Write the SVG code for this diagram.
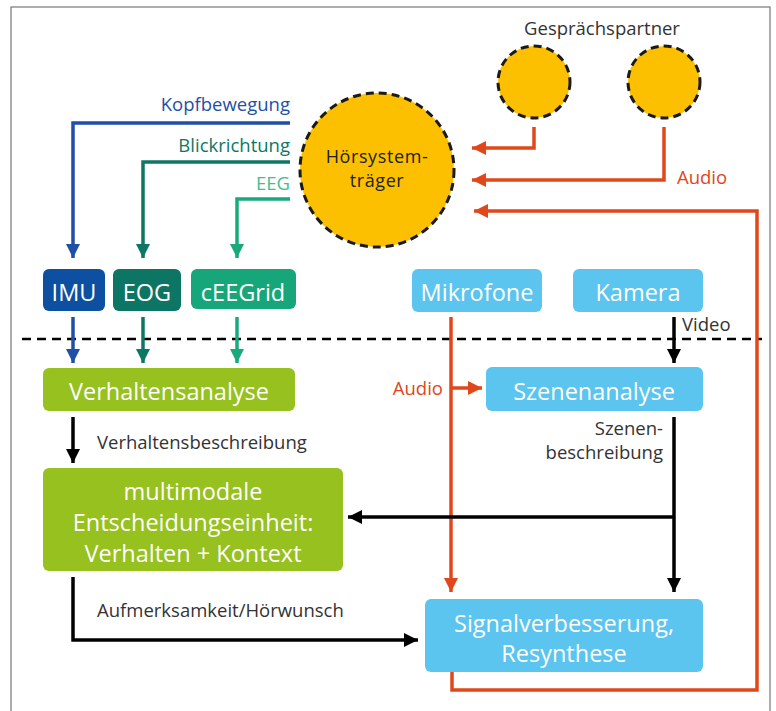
<svg xmlns="http://www.w3.org/2000/svg" width="776" height="711" viewBox="0 0 776 711">
<defs>
<style>
text{font-family:"Open Sans","Noto Sans",sans-serif}
.lbl{font-size:18.5px;fill:#333}
.wt{fill:#fff;font-size:23.5px;text-anchor:middle}
.ln{fill:none;stroke-width:3.5}
.circ{fill:#fcc000;stroke:#1a1a1a;stroke-width:3;stroke-dasharray:8 5}
</style>
<marker id="ab" markerUnits="userSpaceOnUse" markerWidth="16" markerHeight="14" refX="14" refY="7" orient="auto"><path d="M0,0 L14,7 L0,14 Z" fill="#1f4fa6"/></marker>
<marker id="at" markerUnits="userSpaceOnUse" markerWidth="16" markerHeight="14" refX="14" refY="7" orient="auto"><path d="M0,0 L14,7 L0,14 Z" fill="#0e7763"/></marker>
<marker id="ag" markerUnits="userSpaceOnUse" markerWidth="16" markerHeight="14" refX="14" refY="7" orient="auto"><path d="M0,0 L14,7 L0,14 Z" fill="#1aa97c"/></marker>
<marker id="ak" markerUnits="userSpaceOnUse" markerWidth="16" markerHeight="14" refX="14" refY="7" orient="auto"><path d="M0,0 L14,7 L0,14 Z" fill="#000"/></marker>
<marker id="ao" markerUnits="userSpaceOnUse" markerWidth="16" markerHeight="14" refX="14" refY="7" orient="auto"><path d="M0,0 L14,7 L0,14 Z" fill="#e0471a"/></marker>
</defs>
<rect x="0" y="0" width="776" height="711" fill="#fff"/>
<rect x="11" y="7" width="759" height="720" fill="none" stroke="#777" stroke-width="1.2"/>
<line x1="22" y1="339" x2="762" y2="339" stroke="#000" stroke-width="2.5" stroke-dasharray="9 6"/>

<g id="connectors">
<path class="ln" stroke="#1f4fa6" d="M290,123 H73 V258" marker-end="url(#ab)"/>
<path class="ln" stroke="#0e7763" d="M290,162 H143 V258" marker-end="url(#at)"/>
<path class="ln" stroke="#1aa97c" d="M290,199 H237 V258" marker-end="url(#ag)"/>
<path class="ln" stroke="#e0471a" d="M534,127 V148 H472" marker-end="url(#ao)"/>
<path class="ln" stroke="#e0471a" d="M664,127 V180 H472" marker-end="url(#ao)"/>
<path class="ln" stroke="#e0471a" d="M452,672 V690 H757 V211 H474" marker-end="url(#ao)"/>
<path class="ln" stroke="#1f4fa6" d="M73,317 V363" marker-end="url(#ab)"/>
<path class="ln" stroke="#0e7763" d="M143,317 V363" marker-end="url(#at)"/>
<path class="ln" stroke="#1aa97c" d="M237,317 V363" marker-end="url(#ag)"/>
<path class="ln" stroke="#000" d="M73,417 V463" marker-end="url(#ak)"/>
<path class="ln" stroke="#e0471a" d="M451,317 V592" marker-end="url(#ao)"/>
<path class="ln" stroke="#e0471a" d="M451,388 H482" marker-end="url(#ao)"/>
<path class="ln" stroke="#000" d="M674,317 V363" marker-end="url(#ak)"/>
<path class="ln" stroke="#000" d="M674,417 V592" marker-end="url(#ak)"/>
<path class="ln" stroke="#000" d="M674,517 H348" marker-end="url(#ak)"/>
<path class="ln" stroke="#000" d="M73,577 V640 H418" marker-end="url(#ak)"/>
<text class="lbl" x="290" y="111" text-anchor="end" style="fill:#1f4fa6">Kopfbewegung</text>
<text class="lbl" x="290" y="152" text-anchor="end" style="fill:#0e7763">Blickrichtung</text>
<text class="lbl" x="290" y="190" text-anchor="end" style="fill:#3fc08f">EEG</text>
<text class="lbl" x="677" y="184" style="fill:#e0471a">Audio</text>
<text class="lbl" x="443" y="395" text-anchor="end" style="fill:#e0471a">Audio</text>
<text class="lbl" x="682" y="331">Video</text>
<text class="lbl" x="97" y="449">Verhaltensbeschreibung</text>
<text class="lbl" x="663" y="435" text-anchor="end">Szenen-</text>
<text class="lbl" x="663" y="459" text-anchor="end">beschreibung</text>
<text class="lbl" x="97" y="617">Aufmerksamkeit/Hörwunsch</text>
</g>

<g id="hoersystemtraeger">
<circle class="circ" cx="377" cy="170" r="77"/>
<text x="377" y="163" text-anchor="middle" font-size="18" letter-spacing="0.6" fill="#222">Hörsystem-</text>
<text x="377" y="187" text-anchor="middle" font-size="18" letter-spacing="0.6" fill="#222">träger</text>
</g>
<g id="gespraechspartner">
<text class="lbl" x="602" y="35" text-anchor="middle">Gesprächspartner</text>
<circle class="circ" cx="534" cy="82" r="36"/>
<circle class="circ" cx="664" cy="82" r="36"/>
</g>
<g id="imu"><rect x="43" y="269" width="62" height="42" rx="6" fill="#0d4fa0"/><text class="wt" x="74" y="301">IMU</text></g>
<g id="eog"><rect x="113" y="269" width="68" height="42" rx="6" fill="#0d7563"/><text class="wt" x="147" y="301">EOG</text></g>
<g id="ceegrid"><rect x="191" y="269" width="105" height="40" rx="6" fill="#17a679"/><text class="wt" x="243" y="301">cEEGrid</text></g>
<g id="mikrofone"><rect x="412" y="269" width="130" height="43" rx="6" fill="#5bc4ef"/><text class="wt" x="477" y="301">Mikrofone</text></g>
<g id="kamera"><rect x="573" y="269" width="130" height="43" rx="6" fill="#5bc4ef"/><text class="wt" x="638" y="301">Kamera</text></g>
<g id="verhaltensanalyse"><rect x="43" y="368" width="252" height="43" rx="6" fill="#96c11f"/><text class="wt" x="169" y="400">Verhaltensanalyse</text></g>
<g id="szenenanalyse"><rect x="486" y="367" width="217" height="44" rx="6" fill="#5bc4ef"/><text class="wt" x="594" y="400">Szenenanalyse</text></g>
<g id="entscheidung"><rect x="43" y="468" width="300" height="103" rx="6" fill="#96c11f"/>
<text class="wt" x="193" y="500">multimodale</text>
<text class="wt" x="193" y="531">Entscheidungseinheit:</text>
<text class="wt" x="193" y="562">Verhalten + Kontext</text></g>
<g id="signalverbesserung"><rect x="425" y="599" width="278" height="73" rx="6" fill="#5bc4ef"/>
<text class="wt" x="564" y="632">Signalverbesserung,</text>
<text class="wt" x="564" y="662">Resynthese</text></g>
</svg>
